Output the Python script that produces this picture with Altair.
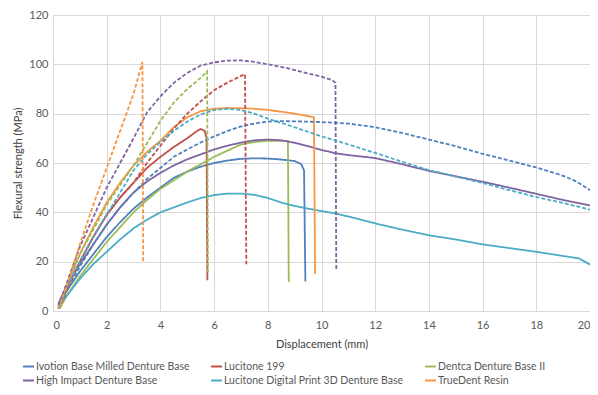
import altair as alt
import pandas as pd

MATERIALS = [
    "Ivotion Base Milled Denture Base",
    "Lucitone 199",
    "Dentca Denture Base II",
    "High Impact Denture Base",
    "Lucitone Digital Print 3D Denture Base",
    "TrueDent Resin",
]
COLORS = ["#4F81BD", "#C0504D", "#9BBB59", "#8064A2", "#4BACC6", "#F79646"]
# legend is filled column by column (2 rows), so list entries in that order
LEGEND_ORDER = [0, 3, 1, 4, 2, 5]

X_TICKS = [0, 2, 4, 6, 8, 10, 12, 14, 16, 18, 20]
Y_TICKS = [0, 20, 40, 60, 80, 100, 120]

# ---- solid curves ----
iv_s_x = [0.2, 0.5, 1, 1.5, 2, 2.5, 3, 3.5, 4, 4.5, 5, 5.5, 6, 6.5, 7, 7.5, 8, 8.5, 9, 9.25, 9.35, 9.4]
iv_s_y = [2, 8, 16, 23, 30, 36, 41.5, 46, 50, 54, 56.5, 58.5, 60, 61, 61.7, 61.9, 61.8, 61.4, 60.8, 59.5, 57, 12]

lu_s_x = [0.25, 0.5, 1, 1.5, 2, 2.5, 3, 3.5, 4, 4.5, 5, 5.3, 5.5, 5.65, 5.72, 5.75]
lu_s_y = [2, 9, 20, 30, 39, 46, 52, 58, 62.5, 66.5, 70, 72.5, 73.8, 73, 70, 12.5]

de_s_x = [0.25, 0.5, 1, 1.5, 2, 2.5, 3, 3.5, 4, 4.5, 5, 5.5, 6, 6.5, 7, 7.5, 8, 8.5, 8.75, 8.78]
de_s_y = [1, 6, 14, 21, 28, 34, 40, 45, 49.5, 53, 56.5, 59.5, 62.5, 65, 67.5, 68.5, 69, 69, 69, 11.8]

hi_s_x = [0.2, 0.5, 1, 1.5, 2, 2.5, 3, 3.5, 4, 4.5, 5, 5.5, 6, 6.5, 7, 7.5, 8, 8.5, 9, 9.5, 10, 10.5,
          11, 12, 13, 14, 15, 16, 17, 18, 19, 20]
hi_s_y = [3, 10, 19, 27, 35, 42, 48, 52.5, 56, 59, 61.5, 63.5, 65.5, 67, 68.3, 69.2, 69.5, 69.2, 68.2, 66.8, 65.3, 64,
          63.2, 62, 59.5, 56.8, 54.6, 52.4, 50, 47.5, 45, 42.8]

ld_s_x = [0.2, 0.5, 1, 1.5, 2, 2.5, 3, 3.5, 4, 4.5, 5, 5.5, 6, 6.5, 7, 7.5, 8, 8.5, 9, 9.5, 10, 10.5,
          11, 12, 13, 14, 15, 16, 17, 18, 19, 19.6, 20]
ld_s_y = [2, 6, 13, 19, 24, 29, 33.5, 37, 40, 42, 44, 45.8, 47, 47.6, 47.6, 47.1, 45.8, 44, 42.6, 41.5, 40.5, 39.6,
          38.3, 35.5, 33, 30.7, 29, 27, 25.5, 24, 22.3, 21.3, 18.8]

td_s_x = [0.2, 0.5, 1, 1.5, 2, 2.5, 3, 3.5, 4, 4.5, 5, 5.5, 6, 6.5, 7, 7.5, 8, 8.5, 9, 9.5, 9.72, 9.76]
td_s_y = [1, 10, 23, 34, 44, 52, 59, 64.5, 69, 74.5, 78.5, 81, 82, 82.3, 82.2, 82, 81.5, 80.8, 80, 79, 78.5, 15]

# ---- dashed curves ----
iv_d_x = [0.2, 0.5, 1, 1.5, 2, 2.5, 3, 3.5, 4, 4.5, 5, 5.5, 6, 6.5, 7, 7.5, 8, 8.5, 9, 10,
          11, 12, 13, 14, 15, 16, 17, 18, 19, 19.5, 20]
iv_d_y = [1, 8, 18, 27, 35, 42, 48, 53.5, 58, 62.5, 65.5, 68.3, 70.8, 73, 74.8, 76, 76.8, 77, 76.9, 76.6,
          76, 74.5, 72.2, 69.5, 66.8, 63.7, 61, 58.2, 54.8, 52.5, 49]

lu_d_x = [0.2, 0.5, 1, 1.5, 2, 2.5, 3, 3.5, 4, 4.5, 5, 5.5, 6, 6.5, 7, 7.15, 7.2]
lu_d_y = [1, 8, 20, 30, 39, 46, 52, 60, 67, 74, 80, 85, 89.5, 92.6, 95.3, 96, 19]

de_d_x = [0.2, 0.5, 1, 1.5, 2, 2.5, 3, 3.5, 4, 4.5, 5, 5.5, 5.74, 5.77]
de_d_y = [1, 10, 23, 33, 43, 51, 59, 68, 77, 84.5, 90, 94.5, 97.2, 15.5]

hi_d_x = [0.2, 0.5, 1, 1.5, 2, 2.5, 3, 3.5, 4, 4.5, 5, 5.5, 6, 6.5, 7, 7.5, 8, 8.5, 9, 9.5, 10, 10.4, 10.52, 10.55]
hi_d_y = [2, 11, 26, 38, 50, 60, 70, 80.5, 87, 92.5, 96.5, 99.5, 100.8, 101.5, 101.6, 101, 100, 99, 97.7, 96.3, 95,
          93.6, 92.5, 17]

ld_d_x = [0.2, 0.5, 1, 1.5, 2, 2.5, 3, 3.5, 4, 4.5, 5, 5.5, 6, 6.5, 7, 7.5, 8, 9, 10,
          11, 12, 13, 14, 15, 16, 17, 18, 19, 20]
ld_d_y = [1, 9, 20, 30, 39, 48, 57, 63.5, 68.5, 73, 76.8, 79.7, 81.5, 82, 81.5, 80, 78, 74.5, 70.8,
          67.5, 64.1, 60.5, 57.1, 54.5, 51.9, 49, 46.2, 43.8, 41.1]

td_d_x = [0.2, 0.5, 1, 1.5, 2, 2.5, 3, 3.33, 3.36]
td_d_y = [1, 10, 27, 43, 58, 73, 88, 101, 19.5]

CURVES = [
    (MATERIALS[0], "solid", iv_s_x, iv_s_y),
    (MATERIALS[1], "solid", lu_s_x, lu_s_y),
    (MATERIALS[2], "solid", de_s_x, de_s_y),
    (MATERIALS[3], "solid", hi_s_x, hi_s_y),
    (MATERIALS[4], "solid", ld_s_x, ld_s_y),
    (MATERIALS[5], "solid", td_s_x, td_s_y),
    (MATERIALS[0], "dashed", iv_d_x, iv_d_y),
    (MATERIALS[1], "dashed", lu_d_x, lu_d_y),
    (MATERIALS[2], "dashed", de_d_x, de_d_y),
    (MATERIALS[3], "dashed", hi_d_x, hi_d_y),
    (MATERIALS[4], "dashed", ld_d_x, ld_d_y),
    (MATERIALS[5], "dashed", td_d_x, td_d_y),
]

rows = []
for ci, (mat, style, xs, ys) in enumerate(CURVES):
    for i, (xv, yv) in enumerate(zip(xs, ys)):
        rows.append({"material": mat, "style": style, "curve": ci, "order": i, "x": xv, "y": yv})
df = pd.DataFrame(rows)

FONT = "Lato"
dom = [MATERIALS[i] for i in LEGEND_ORDER]
rng = [COLORS[i] for i in LEGEND_ORDER]

chart = alt.Chart(df).mark_line(strokeWidth=1.8).encode(
    x=alt.X("x:Q", scale=alt.Scale(domain=[0, 20], nice=False),
            axis=alt.Axis(values=X_TICKS, title="Displacement (mm)", labelPadding=8,
                          titleY=33, titleBaseline="middle")),
    y=alt.Y("y:Q", scale=alt.Scale(domain=[0, 120], nice=False),
            axis=alt.Axis(values=Y_TICKS, title="Flexural strength (MPa)", labelPadding=5,
                          titleX=-35, titleY=148, titleAngle=270, titleBaseline="middle",
                          titleAlign="center")),
    color=alt.Color("material:N", scale=alt.Scale(domain=dom, range=rng),
                    legend=alt.Legend(title=None, orient="none", legendX=-31, legendY=345,
                                      columns=3, columnPadding=17, rowPadding=2,
                                      symbolType="stroke", symbolSize=121, symbolStrokeWidth=2,
                                      labelOffset=1, labelFont=FONT, labelFontSize=10.5,
                                      labelColor="#595959", padding=0, labelLimit=400)),
    strokeDash=alt.StrokeDash("style:N", scale=alt.Scale(domain=["solid", "dashed"],
                                                         range=[[1, 0], [4, 2]]), legend=None),
    detail="curve:N",
    order="order:Q",
).properties(
    width=537, height=296,
    autosize=alt.AutoSizeParams(type="none"),
    padding={"left": 45, "top": 7, "right": 0, "bottom": 76},
).configure_view(stroke=None).configure_axis(
    grid=True, gridColor="#D9D9D9", gridWidth=1, domainColor="#D9D9D9", domainWidth=1,
    ticks=False, tickSize=0,
    labelFont=FONT, labelFontSize=11, labelColor="#595959",
    titleFont=FONT, titleFontSize=11, titleColor="#404040", titleFontWeight="normal",
)

chart.save("out.html", embed_options={"renderer": "svg", "actions": False})
